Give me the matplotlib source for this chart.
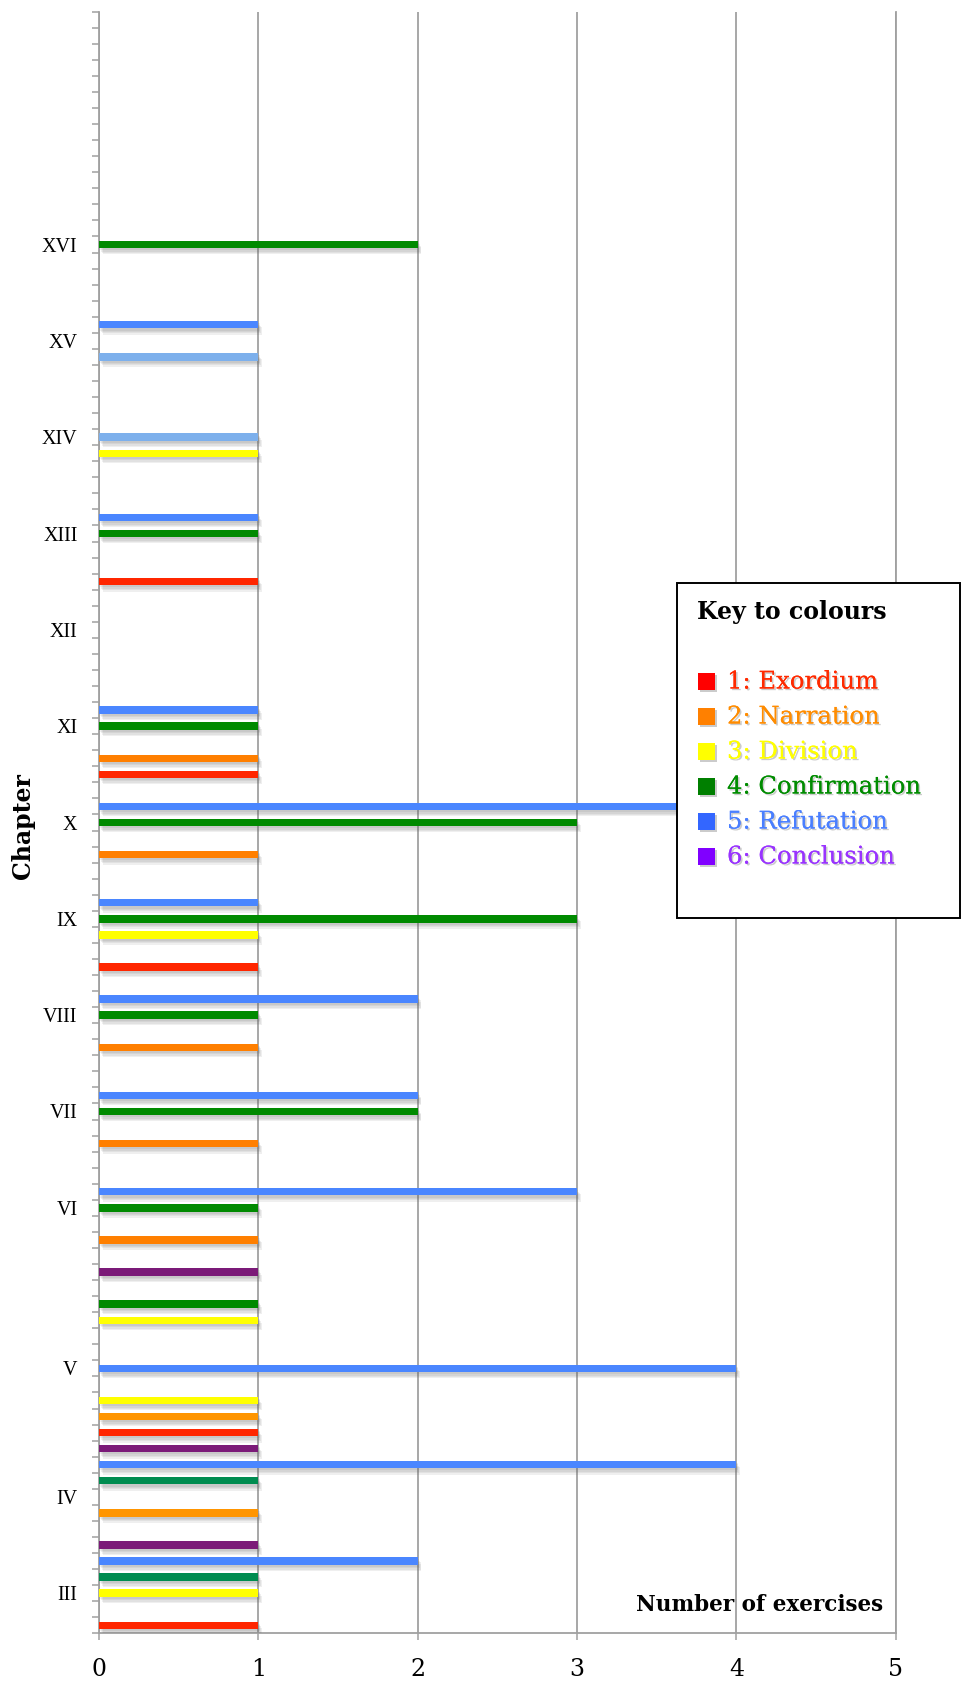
import matplotlib.pyplot as plt
import matplotlib.patheffects as pe
from matplotlib.patches import Rectangle

# rows on the category axis (0 = bottom), count of exercises, colour key
rows = [0, 2, 3, 4, 5, 7, 9, 10, 11, 12, 13, 14, 16, 19, 20, 22, 24, 26, 27,
        30, 32, 33, 36, 38, 39, 41, 43, 44, 45, 48, 50, 51, 53, 54, 56, 57,
        65, 68, 69, 73, 74, 79, 81, 86]
counts = [1, 1, 1, 2, 1, 1, 1, 4, 1, 1, 1, 1, 4, 1, 1, 1, 1, 1, 3,
          1, 2, 2, 1, 1, 2, 1, 1, 3, 1, 1, 3, 4, 1, 1, 1, 1,
          1, 1, 1, 1, 1, 1, 1, 2]
shades = ['red', 'yellow', 'teal', 'blue', 'purple', 'amber', 'teal', 'blue',
          'purple', 'red', 'amber', 'yellow', 'blue', 'yellow', 'green',
          'purple', 'orange', 'green', 'blue', 'orange', 'green', 'blue',
          'orange', 'green', 'blue', 'red', 'yellow', 'green', 'blue',
          'orange', 'green', 'blue', 'red', 'orange', 'green', 'blue',
          'red', 'green', 'blue', 'yellow', 'sky', 'sky', 'blue', 'green']
n_rows = 101

chapters = ['III', 'IV', 'V', 'VI', 'VII', 'VIII', 'IX', 'X', 'XI', 'XII',
            'XIII', 'XIV', 'XV', 'XVI']
chapter_rows = [2, 8, 16, 26, 32, 38, 44, 50, 56, 62, 68, 74, 80, 86]

key_names = ['1: Exordium', '2: Narration', '3: Division', '4: Confirmation',
             '5: Refutation', '6: Conclusion']
key_boxes = ['#ff0000', '#ff8000', '#ffff00', '#007f00', '#3366ff', '#8000ff']
key_text = ['#ff2a00', '#ff8c00', '#ffff00', '#008c00', '#4a7fff', '#9933ff']

palette = {'red': '#ff2600', 'orange': '#ff7f00', 'amber': '#ff9500',
           'yellow': '#ffff00', 'green': '#008a00', 'teal': '#008c50',
           'blue': '#4a86ff', 'sky': '#7db0ec', 'purple': '#7b1a78'}

plt.rcParams['font.family'] = 'DejaVu Serif'
grey = '#a0a0a0'

fig = plt.figure(figsize=(9.61, 16.85), dpi=100)
ax = fig.add_axes([99 / 961, 1 - 1633.3 / 1685, (895.7 - 99) / 961,
                   (1633.3 - 11.7) / 1685])

# a few faint offset copies give a soft drop shadow under each bar
shadow = [pe.withSimplePatchShadow(offset=(o * 0.6, -o), shadow_rgbFace='0.4',
                                   alpha=0.1) for o in (1.5, 2.5, 3.5, 4.5)]
shadow.append(pe.Normal())
bars = ax.barh([r + 0.5 for r in rows], counts, height=0.46,
               color=[palette[s] for s in shades], zorder=3)
for b in bars:
    b.set_path_effects(shadow)

ax.set_xlim(0, 5)
ax.set_ylim(0, n_rows)
ax.set_xticks(range(6))
ax.set_yticks(range(n_rows + 1))
ax.set_yticklabels([])
ax.set_yticks([r + 0.5 for r in chapter_rows], minor=True)
ax.set_yticklabels(chapters, minor=True, family='Liberation Serif',
                   fontsize=14.5)
ax.tick_params(axis='y', which='major', direction='out', length=5,
               width=1.1, color=grey)
ax.tick_params(axis='y', which='minor', length=0, pad=15.5)
ax.tick_params(axis='x', direction='out', length=5, width=1.1, color=grey,
               labelsize=17, pad=13)

ax.grid(axis='x', color=grey, linewidth=1.3, zorder=1)
ax.set_axisbelow(True)
for side in ['left', 'bottom', 'right']:
    ax.spines[side].set_color(grey)
    ax.spines[side].set_linewidth(1.3)
ax.spines['top'].set_visible(False)

fig.text(23 / 961, 1 - 826 / 1685, 'Chapter', rotation=90, ha='center',
         va='center', fontsize=17, fontweight='bold')
fig.text(883 / 961, 1 - 1605 / 1685, 'Number of exercises', ha='right',
         va='center', fontsize=15.5, fontweight='bold')

# colour key box
fig.patches.append(Rectangle((677 / 961, 1 - 918 / 1685), 283 / 961,
                             335 / 1685, transform=fig.transFigure,
                             facecolor='white', edgecolor='black',
                             linewidth=1.4, zorder=10))
fig.text(697 / 961, 1 - 612 / 1685, 'Key to colours', ha='left',
         va='center', fontsize=17, fontweight='bold', zorder=11)
txt_shadow = [pe.withSimplePatchShadow(offset=(1.2, -1.2),
                                       shadow_rgbFace='0.55', alpha=0.45),
              pe.Normal()]
for i, (name, bc, tc) in enumerate(zip(key_names, key_boxes, key_text)):
    yc = 682 + i * 35
    fig.patches.append(Rectangle((698 / 961, 1 - (yc + 8) / 1685), 17 / 961,
                                 17 / 1685, transform=fig.transFigure,
                                 facecolor=bc, edgecolor='none', zorder=11,
                                 path_effects=txt_shadow))
    fig.text(727 / 961, 1 - yc / 1685, name, ha='left', va='center',
             fontsize=17.5, color=tc, zorder=11, path_effects=txt_shadow)

plt.savefig('out.png', dpi=100)
